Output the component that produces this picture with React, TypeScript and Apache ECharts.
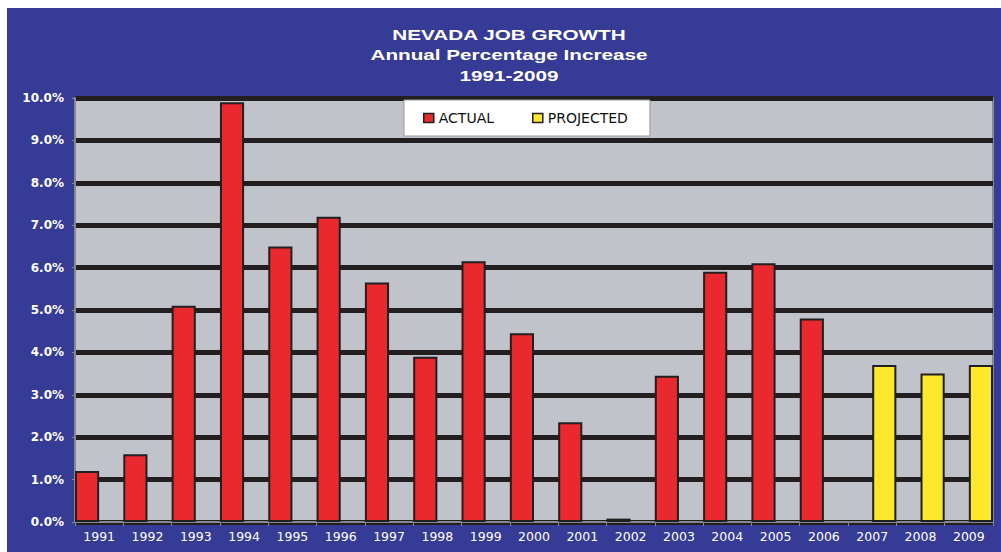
import React, { useEffect, useRef } from "react";
import * as echarts from "echarts";

const years = ["1991","1992","1993","1994","1995","1996","1997","1998","1999","2000","2001","2002","2003","2004","2005","2006","2007","2008","2009"];
const actual = [1.2, 1.6, 5.1, 9.9, 6.5, 7.2, 5.65, 3.9, 6.15, 4.45, 2.35, 0.08, 3.45, 5.9, 6.1, 4.8, null, null, null];
const projected = [null, null, null, null, null, null, null, null, null, null, null, null, null, null, null, null, 3.7, 3.5, 3.7];
const titleLines = ["NEVADA JOB GROWTH", "Annual Percentage Increase", "1991-2009"];

const BLUE = "#363b95";
const PLOT = "#c0c4ca";
const RED = "#e9292e";
const YELLOW = "#fde92b";
const DARK = "#231f20";
const EDGE = "#868a90";

export default function App() {
  const ref = useRef<HTMLDivElement>(null);
  useEffect(() => {
    const chart = echarts.init(ref.current!, null, { renderer: "svg" });
    const titleY = [27, 47, 68];
    chart.setOption({
      animation: false,
      backgroundColor: BLUE,
      graphic: titleLines.map((t, i) => ({
        type: "text",
        x: 502,
        y: titleY[i],
        scaleX: 1.38,
        style: {
          text: t,
          x: 0,
          y: 0,
          fill: "#ffffff",
          font: "bold 15px 'Liberation Sans', Arial, sans-serif",
          textAlign: "center",
          align: "center",
          textVerticalAlign: "middle",
          verticalAlign: "middle",
        },
      })),
      legend: {
        left: 397,
        top: 92,
        orient: "horizontal",
        backgroundColor: "#ffffff",
        borderColor: "#9a9a9a",
        borderWidth: 1,
        borderRadius: 0,
        padding: [11, 22, 11, 19],
        itemGap: 38,
        itemWidth: 10,
        itemHeight: 9,
        icon: "rect",
        itemStyle: { borderColor: DARK, borderWidth: 1.5 },
        textStyle: { fontFamily: "'DejaVu Sans', sans-serif", fontSize: 14, color: "#111111" },
        data: ["ACTUAL", "PROJECTED"],
      },
      grid: {
        left: 68,
        right: 8,
        top: 90,
        bottom: 30,
        show: true,
        backgroundColor: PLOT,
        borderColor: EDGE,
        borderWidth: 2,
        containLabel: false,
      },
      xAxis: {
        type: "category",
        data: years,
        axisLine: { show: true, lineStyle: { color: EDGE, width: 2 } },
        axisTick: { show: true, length: 4, lineStyle: { color: EDGE } },
        axisLabel: {
          color: "#ffffff",
          fontFamily: "'DejaVu Sans', sans-serif",
          fontSize: 12.5,
          margin: 8,
          interval: 0,
        },
        splitLine: { show: false },
      },
      yAxis: {
        type: "value",
        min: 0,
        max: 10,
        interval: 1,
        axisLine: { show: true, lineStyle: { color: EDGE, width: 2 } },
        axisTick: { show: true, length: 3, lineStyle: { color: EDGE } },
        axisLabel: {
          color: "#ffffff",
          fontFamily: "'DejaVu Sans', sans-serif",
          fontWeight: "bold",
          fontSize: 12,
          margin: 11,
          formatter: (v: number) => v.toFixed(1) + "%",
        },
        splitLine: { show: true, lineStyle: { color: DARK, width: 5 } },
      },
      series: [
        {
          name: "ACTUAL",
          type: "bar",
          data: actual,
          barGap: "0%",
          barCategoryGap: "0%",
          itemStyle: { color: RED, borderColor: DARK, borderWidth: 2 },
        },
        {
          name: "PROJECTED",
          type: "bar",
          data: projected,
          barGap: "0%",
          barCategoryGap: "0%",
          itemStyle: { color: YELLOW, borderColor: DARK, borderWidth: 2 },
        },
      ],
    });
    return () => chart.dispose();
  }, []);
  return (
    <div
      ref={ref}
      style={{ position: "absolute", left: 7, top: 8, width: 994, height: 544 }}
    />
  );
}
